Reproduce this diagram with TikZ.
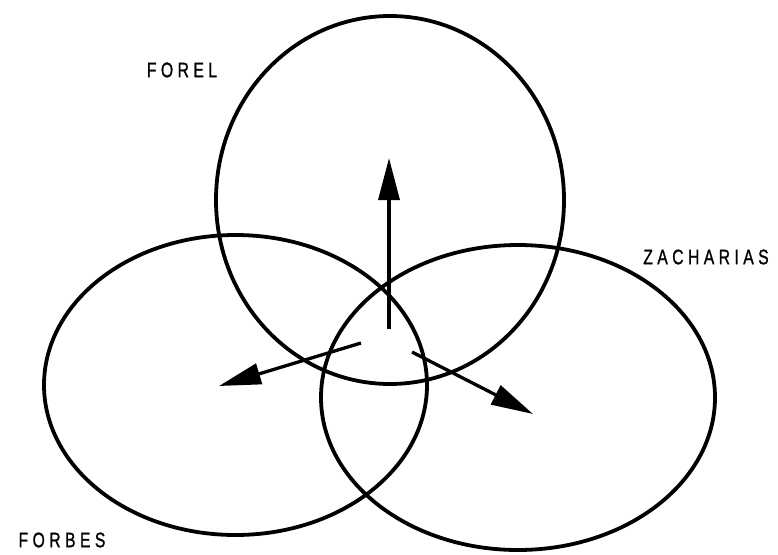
\documentclass[tikz,border=0pt]{standalone}
\usepackage{fontspec}
\setmainfont{Liberation Sans}[LetterSpace=28,FakeBold=1.2]
\usetikzlibrary{arrows.meta}
\begin{document}
\begin{tikzpicture}[x=1pt,y=-1pt,
  ring/.style={line width=3.8pt},
  vec/.style={line width=3.3pt,-{Triangle[length=42pt,width=21pt]}},
  lab/.style={inner sep=0pt,font=\fontsize{21}{22}\selectfont,xscale=0.75}]
\useasboundingbox (0,0) rectangle (778,554);
\draw[ring] (390,200) ellipse [x radius=174, y radius=184];
\draw[ring] (235.5,385) ellipse [x radius=191.5, y radius=150];
\draw[ring] (518,397.5) ellipse [x radius=197, y radius=152.5];
\coordinate (u0) at (389,329);
\coordinate (u1) at (389,158);
\coordinate (l0) at (361,343);
\coordinate (l1) at (219,386);
\coordinate (r0) at (412,352);
\coordinate (r1) at (533,414);
\draw[vec] (u0) -- (u1);
\draw[vec] (l0) -- (l1);
\draw[vec] (r0) -- (r1);
\node[lab] (forel) at (182,70) {FOREL};
\node[lab] (zach) at (706,257) {ZACHARIAS};
\node[lab] (forbes) at (62,540) {FORBES};
\end{tikzpicture}
\end{document}
